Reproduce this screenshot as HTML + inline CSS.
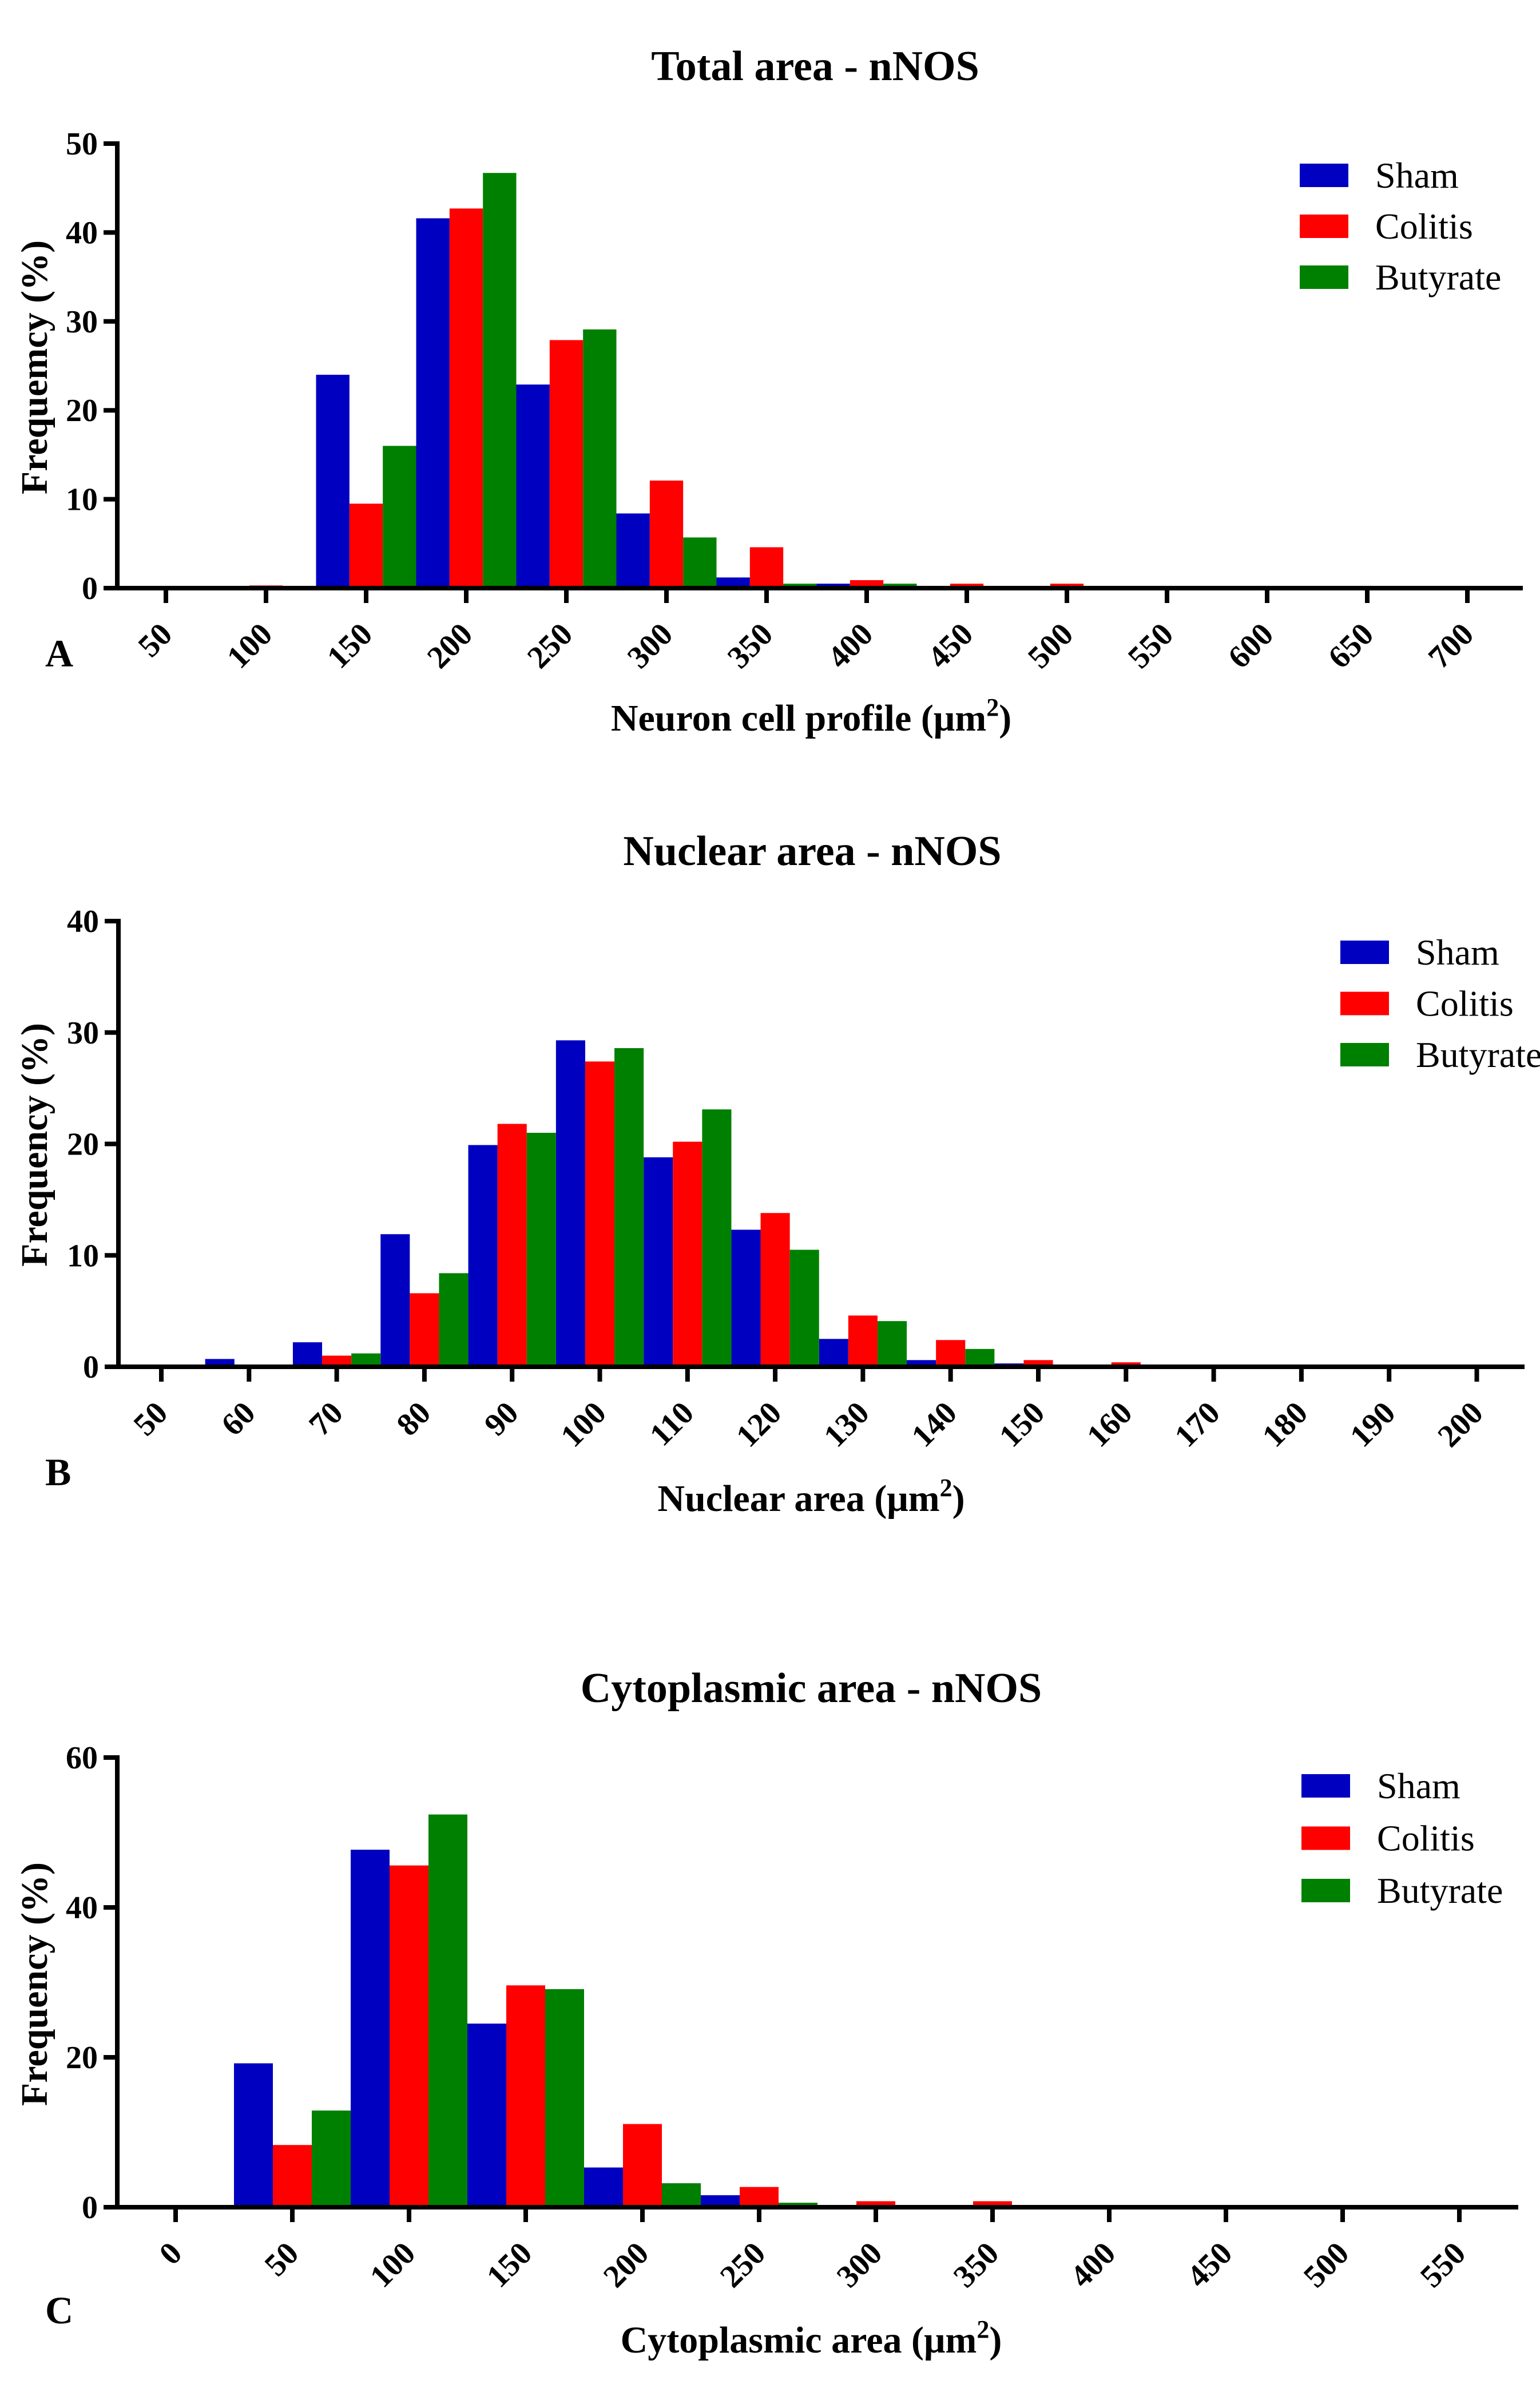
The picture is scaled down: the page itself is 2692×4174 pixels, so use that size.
<!DOCTYPE html>
<html><head><meta charset="utf-8"><title>nNOS area histograms</title>
<style>
html,body{margin:0;padding:0;background:#fff;}
svg{display:block;font-family:"Liberation Serif","Times New Roman",serif;}
.b{font-weight:bold;}
</style></head>
<body>
<svg id="fig" width="2692" height="4174" viewBox="0 0 2692 4174" xmlns="http://www.w3.org/2000/svg"></svg>
<script>
// ---- Chart A data ----
const binsA = [50,100,150,200,250,300,350,400,450,500,550,600,650,700];
const shamA = [0,0,24.0,41.6,22.9,8.4,1.2,0.5,0,0,0.15,0,0,0];
const colitisA = [0,0.3,9.5,42.7,27.9,12.1,4.6,0.9,0.5,0.5,0,0,0,0];
const butyrateA = [0,0,16.0,46.7,29.1,5.7,0.5,0.5,0,0.2,0,0,0,0];
const yTicksA = [0,10,20,30,40,50];
// ---- Chart B data ----
const binsB = [50,60,70,80,90,100,110,120,130,140,150,160,170,180,190,200];
const shamB = [0,0.7,2.2,11.9,19.9,29.3,18.8,12.3,2.5,0.6,0.3,0,0,0,0,0];
const colitisB = [0,0,1.0,6.6,21.8,27.4,20.2,13.8,4.6,2.4,0.6,0.4,0.2,0,0,0];
const butyrateB = [0,0,1.2,8.4,21.0,28.6,23.1,10.5,4.1,1.6,0.2,0,0.2,0,0,0];
const yTicksB = [0,10,20,30,40];
// ---- Chart C data ----
const binsC = [0,50,100,150,200,250,300,350,400,450,500,550];
const shamC = [0,19.2,47.7,24.5,5.3,1.6,0,0,0,0,0,0];
const colitisC = [0,8.3,45.6,29.6,11.1,2.7,0.8,0.8,0,0,0,0];
const butyrateC = [0,12.9,52.4,29.1,3.2,0.6,0,0,0,0,0,0];
const yTicksC = [0,20,40,60];
const seriesNames = ["Sham","Colitis","Butyrate"];

const NS = "http://www.w3.org/2000/svg";
const svg = document.getElementById("fig");
const COLORS = ["#0000C0","#FF0000","#008000"];

function mk(tag, attrs, parent, text){
  const e = document.createElementNS(NS, tag);
  for (const k in attrs) e.setAttribute(k, attrs[k]);
  if (text !== undefined) e.textContent = text;
  (parent || svg).appendChild(e);
  return e;
}

function drawChart(cfg){
  const g = mk("g", {});
  
  
  const xScale = v => cfg.x0 + (v - cfg.bins[0]) / cfg.step * cfg.spacing;
  const yScale = v => cfg.y0 - (v - 0) / cfg.ymax * (cfg.y0 - cfg.yTop);
  const bw = cfg.spacing / 3;
  // bars
  const sers = [cfg.sham, cfg.colitis, cfg.butyrate];
  sers.forEach((vals, si) => {
    vals.forEach((v, i) => {
      if (v <= 0) return;
      const cx = xScale(cfg.bins[i]);
      const x = cx - 1.5*bw + si*bw;
      const yt = yScale(v);
      const r = mk("rect", {x: x, y: yt, width: bw, height: cfg.y0 - yt, fill: COLORS[si]}, g);
      
      
    });
  });
  // axes
  const ax = mk("g", {}, g);
  
  
  mk("line", {x1: cfg.axX, y1: cfg.yTop - 4, x2: cfg.axX, y2: cfg.y0 + 4, stroke: "#000", "stroke-width": 8}, ax);
  mk("line", {x1: cfg.axX - 24, y1: cfg.y0, x2: cfg.xEnd, y2: cfg.y0, stroke: "#000", "stroke-width": 8}, ax);
  // y ticks
  cfg.yTicks.forEach(t => {
    const y = yScale(t);
    mk("line", {x1: cfg.axX - 24, y1: y, x2: cfg.axX, y2: y, stroke: "#000", "stroke-width": 8}, ax);
    const tl = mk("text", {x: cfg.axX - 34, y: y + 19, "text-anchor": "end", "font-size": 56, class: "b"}, ax, String(t));
    
    
  });
  // x ticks
  cfg.bins.forEach(b => {
    const x = xScale(b);
    mk("line", {x1: x, y1: cfg.y0, x2: x, y2: cfg.y0 + 26, stroke: "#000", "stroke-width": 8}, ax);
    const ax2 = x + 14, ay = cfg.y0 + 84;
    const tl = mk("text", {x: ax2, y: ay, "text-anchor": "end", "font-size": 56, class: "b", transform: "rotate(-45 " + ax2 + " " + ay + ")"}, ax, String(b));
    
    
  });
  // title
  const t = mk("text", {x: cfg.titleX, y: cfg.titleY, "text-anchor": "middle", "font-size": 74, class: "b", "xml:space": "preserve"}, g, cfg.title);
  
  
  // x title
  const xt = mk("text", {x: 1418, y: cfg.xTitleY, "text-anchor": "middle", "font-size": 66, class: "b"}, g);
  
  
  mk("tspan", {}, xt, cfg.xTitle + " (\u03bcm");
  mk("tspan", {dy: -26, "font-size": 44}, xt, "2");
  mk("tspan", {dy: 26}, xt, ")");
  // y title
  const yt = mk("text", {x: 0, y: 0, "text-anchor": "middle", "font-size": 66, class: "b", "xml:space": "preserve", transform: "translate(82 " + cfg.yTitleY + ") rotate(-90)"}, g, cfg.yTitle);
  
  
  // panel letter
  const pl = mk("text", {x: 79, y: cfg.letterY, "font-size": 68, class: "b"}, g, cfg.letter);
  
  
  // legend
  const lg = mk("g", {}, g);
  
  
  seriesNames.forEach((n, i) => {
    const ent = mk("g", {}, lg);
    
    
    const top = cfg.legTop + i * cfg.legGap;
    mk("rect", {x: cfg.legX, y: top, width: 85, height: 41, fill: COLORS[i]}, ent);
    mk("text", {x: cfg.legX + 132, y: top + 42, "font-size": 64}, ent, n);
  });
}

drawChart({id:"total-area", bins: binsA, step: 50, sham: shamA, colitis: colitisA, butyrate: butyrateA,
  yTicks: yTicksA, ymax: 50, x0: 290, spacing: 175, y0: 1028, yTop: 251, axX: 205, xEnd: 2662,
  title: "Total area - nNOS", titleX: 1425, titleY: 140, xTitle: "Neuron cell profile", xTitleY: 1277,
  yTitle: "Frequemcy  (%)", yTitleY: 642, letter: "A", letterY: 1165, legX: 2272, legTop: 286, legGap: 89});

drawChart({id:"nuclear-area", bins: binsB, step: 10, sham: shamB, colitis: colitisB, butyrate: butyrateB,
  yTicks: yTicksB, ymax: 40, x0: 282, spacing: 153.3, y0: 2389, yTop: 1610, axX: 207, xEnd: 2665,
  title: "Nuclear area - nNOS", titleX: 1420, titleY: 1512, xTitle: "Nuclear area", xTitleY: 2641,
  yTitle: "Frequency (%)", yTitleY: 2001, letter: "B", letterY: 2596, legX: 2343, legTop: 1644, legGap: 89.5});

drawChart({id:"cytoplasmic-area", bins: binsC, step: 50, sham: shamC, colitis: colitisC, butyrate: butyrateC,
  yTicks: yTicksC, ymax: 60, x0: 307, spacing: 204, y0: 3858, yTop: 3072, axX: 205, xEnd: 2654,
  title: "Cytoplasmic area -  nNOS", titleX: 1418, titleY: 2975, xTitle: "Cytoplasmic area", xTitleY: 4112,
  yTitle: "Frequency  (%)", yTitleY: 3468, letter: "C", letterY: 4061, legX: 2275, legTop: 3101, legGap: 91.5});
</script>
</body></html>
